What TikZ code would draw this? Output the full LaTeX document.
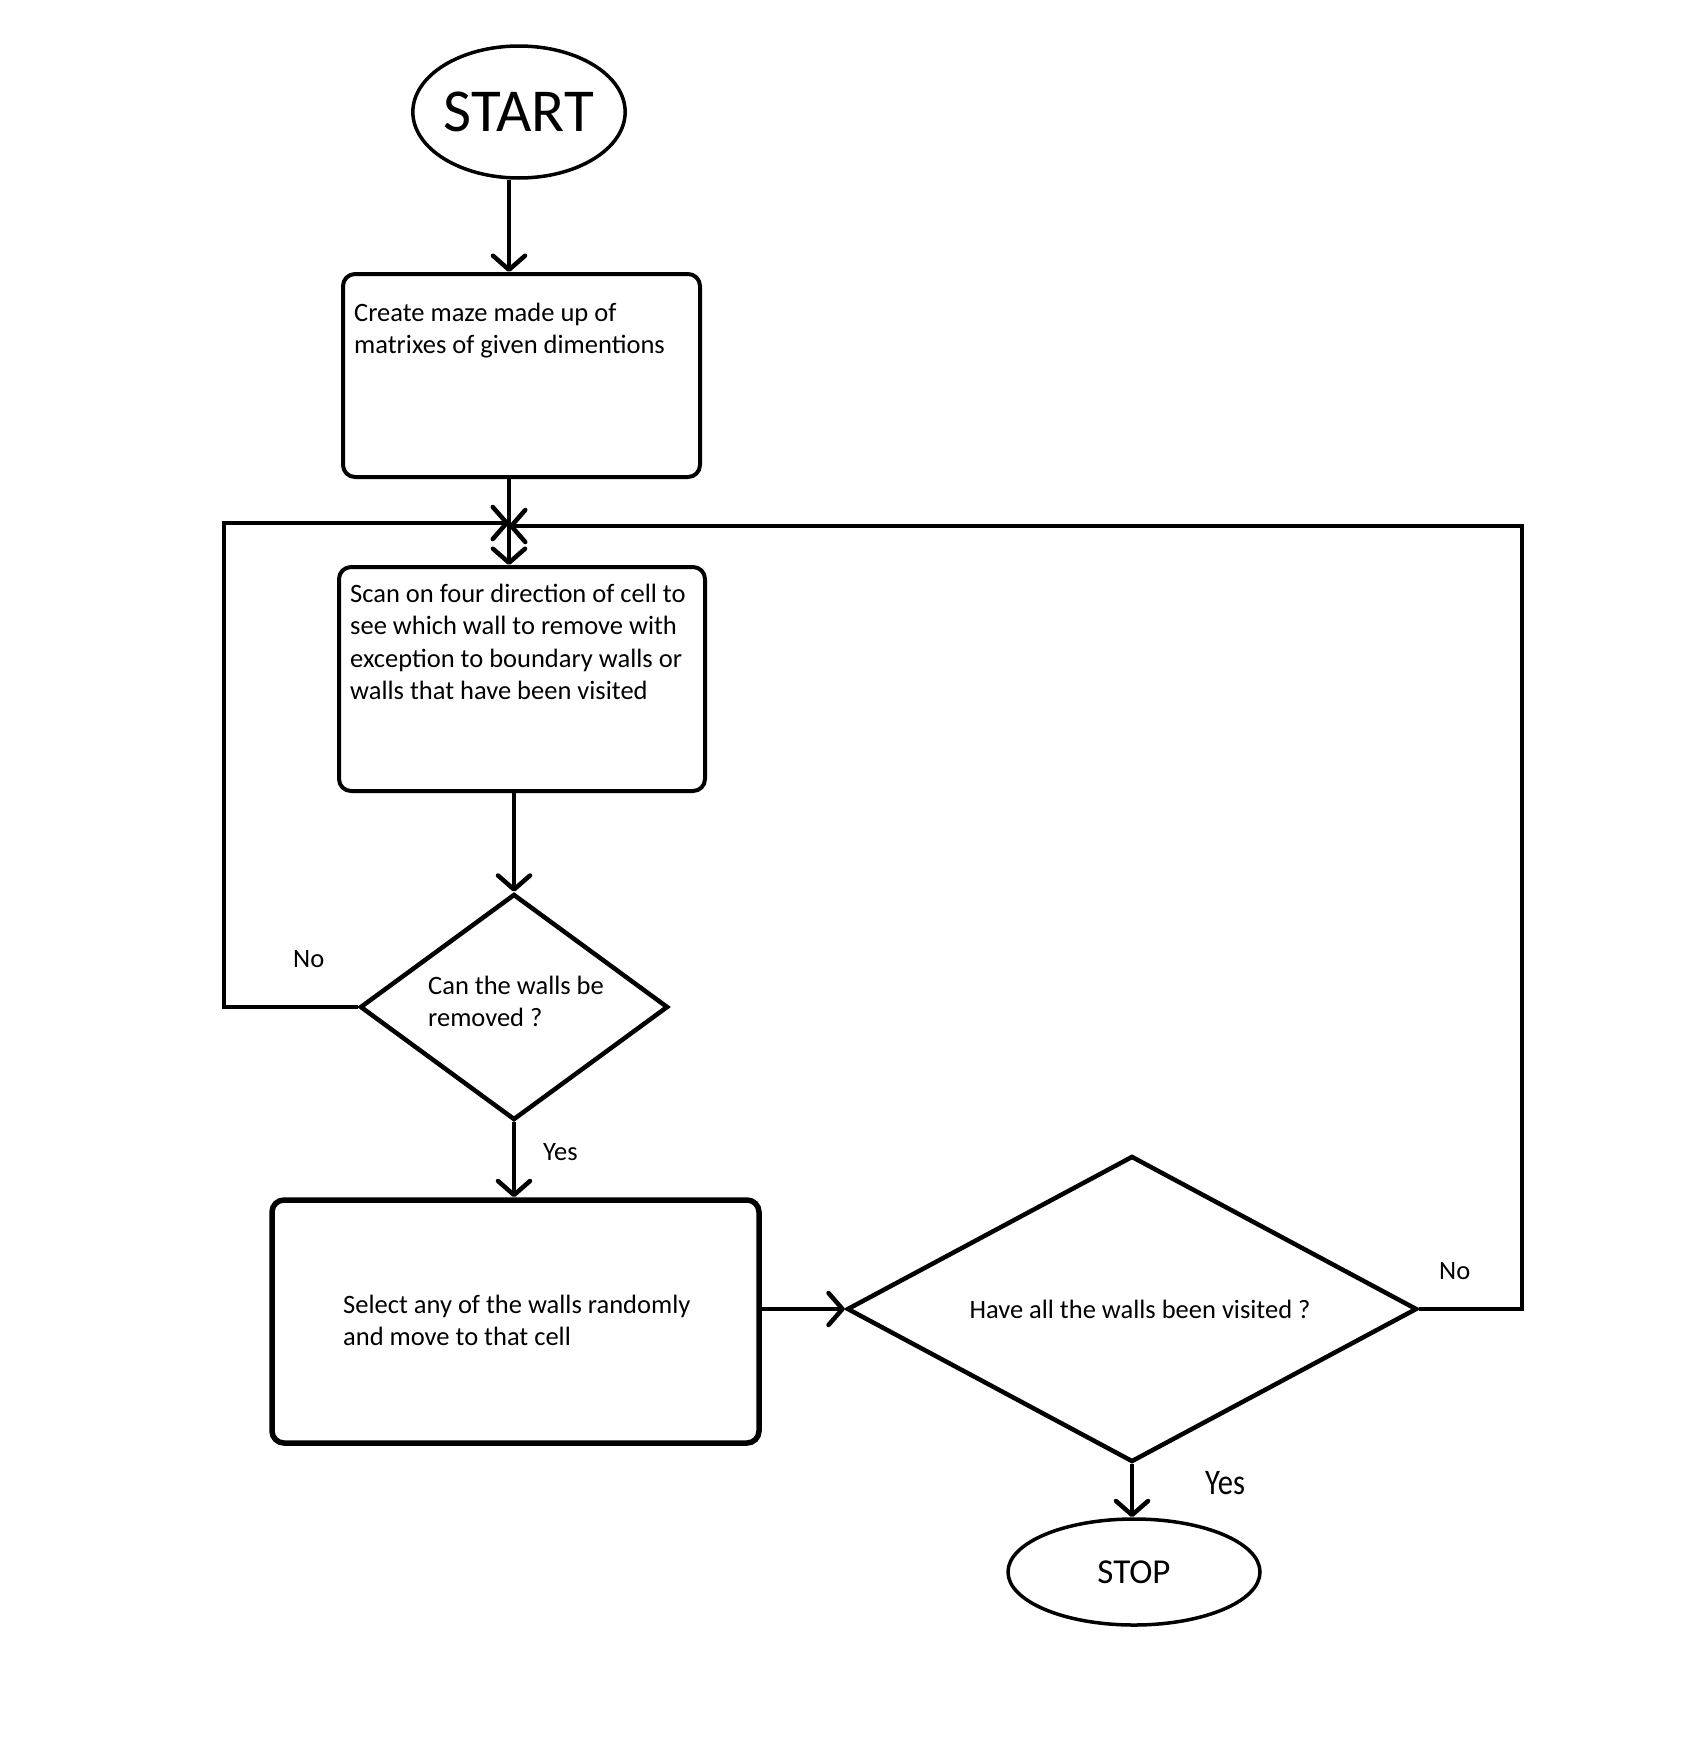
\documentclass[tikz,border=0pt]{standalone}
\usepackage{fontspec}
\usepackage{graphicx}
\setmainfont{Carlito}
\usetikzlibrary{positioning, arrows.meta, shapes.geometric}

\tikzset{
  box/.style={draw, rounded corners=12pt, line width=4pt, inner sep=0pt},
  decision/.style={draw, diamond, inner sep=0pt, line width=4.5pt},
  terminal/.style={draw, ellipse, inner sep=0pt, line width=3.5pt},
  txt/.style={anchor=base west, align=left, inner sep=0pt, font=\fontsize{26.5}{32.5}\selectfont},
  flow/.style={line width=4.5pt, -{Straight Barb[length=14pt, width=32pt, round]}},
}

\begin{document}
\begin{tikzpicture}[x=1pt, y=-1pt]
    \useasboundingbox (0,0) rectangle (1694,1764);

    % terminals
    \node[terminal, minimum width=210pt, minimum height=132pt, font=\fontsize{61}{61}\selectfont] (start) at (519,112) {START};
    \node[terminal, minimum width=252pt, minimum height=106pt, font=\fontsize{35}{35}\selectfont] (stop) at (1134,1572) {STOP};

    % process boxes
    \node[box, minimum width=357pt, minimum height=203pt] (create) at (521.5,375.5) {};
    \node[box, minimum width=366pt, minimum height=224pt] (scan) at (522,679) {};
    \node[box, line width=5.5pt, minimum width=487pt, minimum height=243pt] (select) at (515.5,1321.5) {};

    % decisions
    \node[decision, minimum width=308pt, minimum height=226pt] (canwalls) at (514,1007) {};
    \node[decision, minimum width=570pt, minimum height=306pt] (visited) at (1132,1309) {};

    % texts (anchored on the baseline of the last line)
    \node[txt] (createtxt) at (354,353.5) {Create maze made up of\\matrixes of given dimentions};
    \node[txt] (scantxt) at (350,699.5) {Scan on four direction of cell to\\see which wall to remove with\\exception to boundary walls or\\walls that have been visited};
    \node[txt] (canwallstxt) at (428,1026.5) {Can the walls be\\removed ?};
    \node[txt] (selecttxt) at (343,1345.5) {Select any of the walls randomly\\and move to that cell};
    \node[txt, anchor=base] (visitedtxt) at (1140,1318) {Have all the walls been visited ?};

    % branch labels
    \node[txt] (nol) at (293,967) {No};
    \node[txt] (yesl) at (543,1160) {Yes};
    \node[txt] (nor) at (1439,1279) {No};
    \node[txt, font=\fontsize{36}{36}\selectfont] (yesr) at (1205,1494) {\scalebox{0.85}[1]{Yes}};

    % junction and loop corners
    \coordinate (jn) at (509,523);
    \coordinate (lft) at (224,523);
    \coordinate (rgt) at (1522,526);

    % connectors
    \draw[flow] (start.south -| jn) -- (create.north -| jn);
    \draw[line width=4.5pt] (create.south -| jn) -- (jn);
    \draw[flow] (jn) -- (scan.north -| jn);
    \draw[flow] (scan.south -| canwalls.north) -- (canwalls.north);
    \draw[flow] (canwalls.west) -| (lft) -- (jn);
    \draw[flow] (canwalls.south) -- (canwalls.south |- select.north);
    \draw[flow] (select.east |- visited.west) -- (visited.west);
    \draw[flow] (visited.east) -| (rgt) -- (jn |- rgt);
    \draw[flow] (visited.south) -- (visited.south |- stop.north);
\end{tikzpicture}
\end{document}
